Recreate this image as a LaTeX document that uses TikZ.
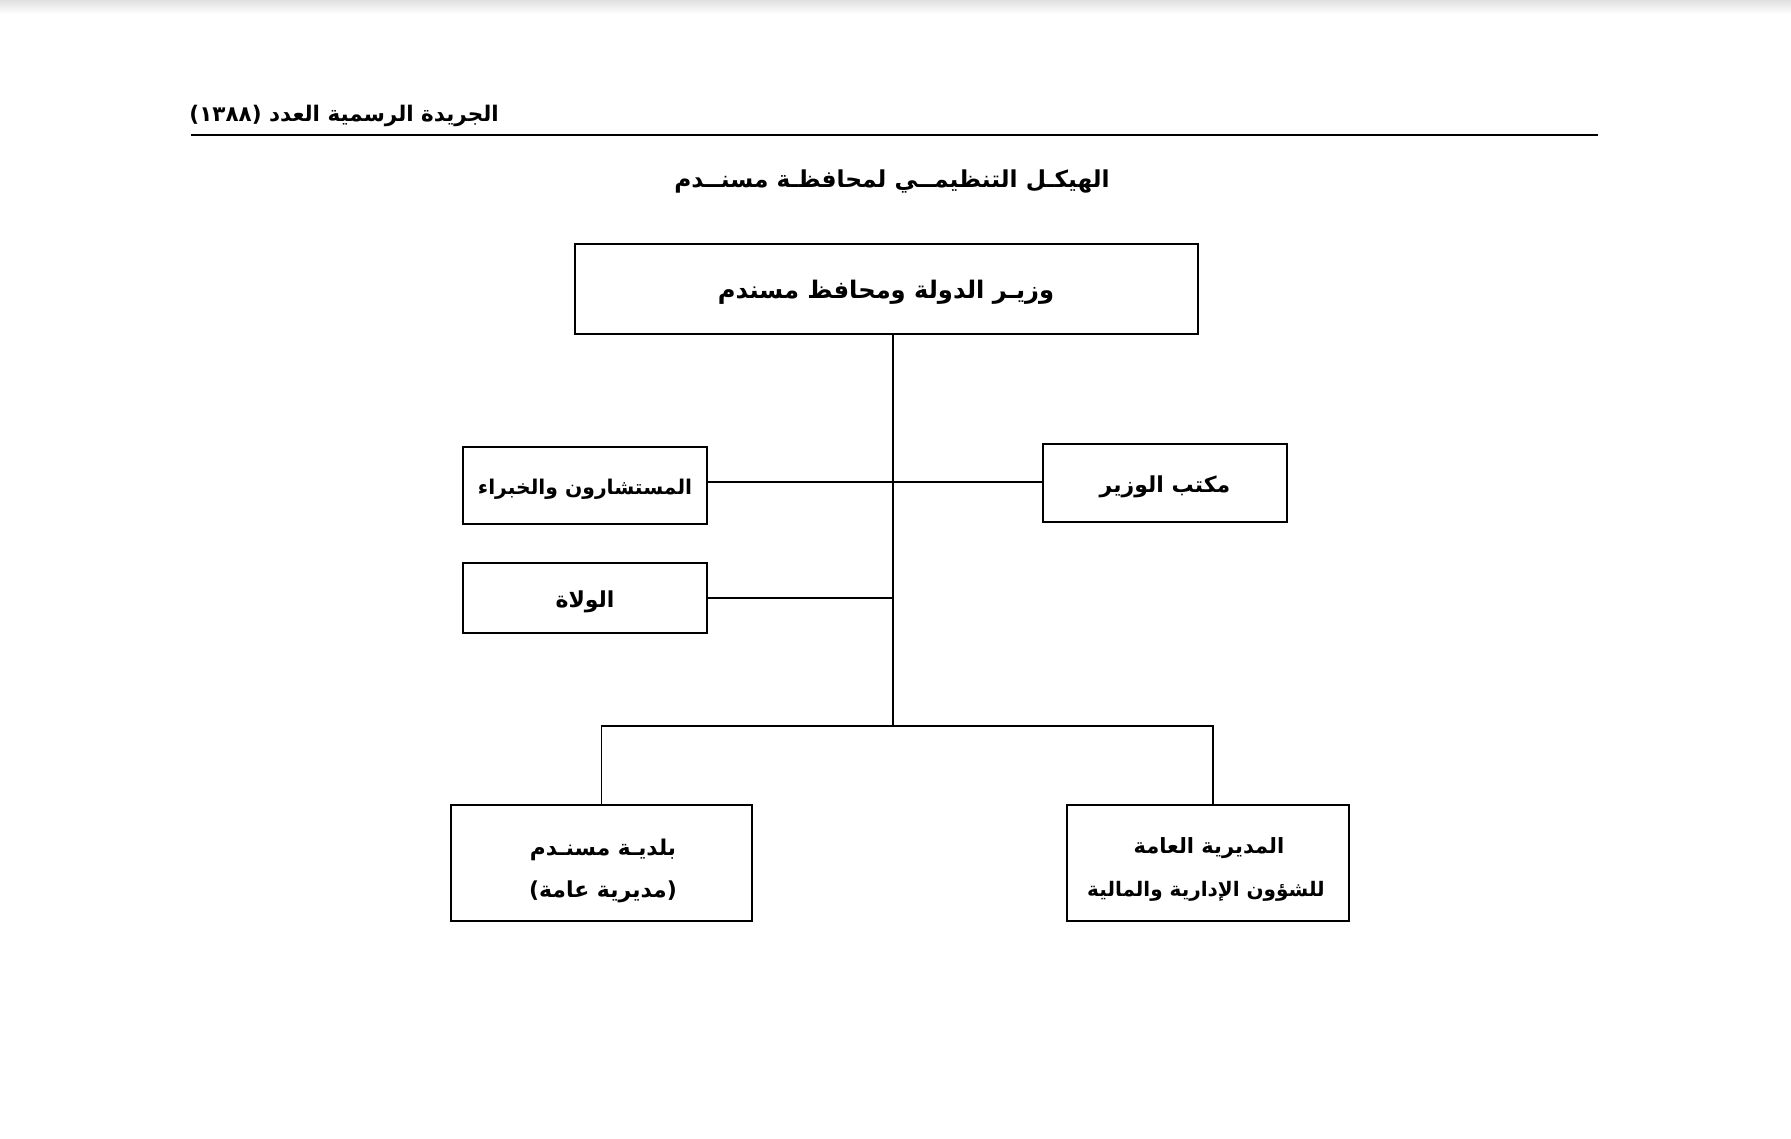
\documentclass[tikz,border=0pt]{standalone}
\usepackage{fontspec}
\newfontfamily\arabicfont[Script=Arabic]{DejaVu Sans}
\TeXXeTstate=1
\tikzset{
  orgbox/.style={draw=black, line width=2.2pt, fill=white, inner sep=0pt, align=center},
  link/.style={draw=black, line width=1.6pt},
  artext/.style={inner sep=0pt, font=\arabicfont\bfseries\fontsize{21}{25}\selectfont},
  fs/.style={font=\arabicfont\bfseries\fontsize{#1}{#1}\selectfont}
}
\begin{document}
\begin{tikzpicture}[x=1pt,y=-1pt]
\useasboundingbox (0,0) rectangle (1791,1138);
\fill[white] (0,0) rectangle (1791,1138);
\shade[top color=black!12, bottom color=white] (0,0) rectangle (1791,14);
% header
\node[artext, fs=21.5, anchor=east] (hdr) at (499,115.5) {\beginR الجريدة الرسمية العدد (١٣٨٨)\endR};
\coordinate (hl) at (191,135);
\coordinate (hr) at (1598,135);
\draw[line width=2pt] (hl) -- (hr);
% title
\node[artext, fs=23.3] (title) at (892,181) {\beginR الهيكـل التنظيمــي لمحافظـة مسنــدم\endR};
% boxes
\node[orgbox, minimum width=623pt, minimum height=90pt] (top) at (886.5,289) {};
\node[artext, fs=24.2] (toptxt) at (886,292.5) {\beginR وزيـر الدولة ومحافظ مسندم\endR};
\node[orgbox, minimum width=244pt, minimum height=77pt] (adv) at (585,485.5) {};
\node[artext, fs=20.3] (advtxt) at (585,489) {\beginR المستشارون والخبراء\endR};
\node[orgbox, minimum width=244pt, minimum height=78pt] (off) at (1165,483) {};
\node[artext, fs=22] (offtxt) at (1165,487) {\beginR مكتب الوزير\endR};
\node[orgbox, minimum width=244pt, minimum height=70pt] (wal) at (585,598) {};
\node[artext, fs=22] (waltxt) at (585,602) {\beginR الولاة\endR};
\node[orgbox, minimum width=301pt, minimum height=116pt] (bal) at (601.5,863) {};
\node[artext, fs=21.7] (baltxt1) at (603,849.5) {\beginR بلديـة مسنـدم\endR};
\node[artext, fs=22] (baltxt2) at (603,892) {\beginR (مديرية عامة)\endR};
\node[orgbox, minimum width=282pt, minimum height=116pt] (dir) at (1208,863) {};
\node[artext, fs=21] (dirtxt1) at (1209,848.5) {\beginR المديرية العامة\endR};
\node[artext, fs=20] (dirtxt2) at (1206,891.5) {\beginR للشؤون الإدارية والمالية\endR};
% connectors
\coordinate (sp) at (893,726);
\coordinate (row) at (893,482);
\coordinate (dj) at (1213,726);
\draw[link] (top.south -| sp) -- (sp);
\draw[link] (adv.east |- row) -- (off.west |- row);
\draw[link] (wal.east) -- (wal.east -| sp);
\draw[link] (bal.north) |- (dj) -- (dj |- dir.north);
\end{tikzpicture}
\end{document}
